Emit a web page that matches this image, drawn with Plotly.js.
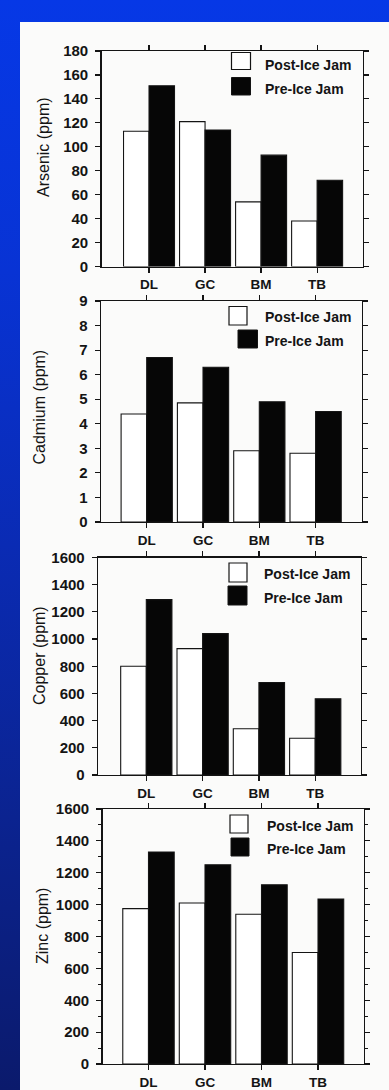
<!DOCTYPE html>
<html>
<head>
<meta charset="utf-8">
<script src="https://cdn.plot.ly/plotly-3.0.1.min.js"></script>
<style>
  html, body { margin: 0; padding: 0; }
  body {
    width: 389px; height: 1090px; overflow: hidden;
    background: linear-gradient(to bottom, #0638e6 0%, #0833d4 25%, #0a2bb4 50%, #0b2390 75%, #0b1a6c 100%);
  }
  #chart { width: 389px; height: 1090px; }
</style>
</head>
<body>
<div id="chart"></div>
<script>
// Sampling sites
const categories = ['DL', 'GC', 'BM', 'TB'];
const seriesNames = ['Post-Ice Jam', 'Pre-Ice Jam'];

// Sediment concentrations (ppm)
const arsenicPost = [113, 121, 54, 38];
const arsenicPre  = [151, 114, 93, 72];
const cadmiumPost = [4.4, 4.85, 2.9, 2.8];
const cadmiumPre  = [6.7, 6.3, 4.9, 4.5];
const copperPost  = [800, 930, 340, 270];
const copperPre   = [1290, 1040, 680, 560];
const zincPost    = [975, 1010, 940, 700];
const zincPre     = [1330, 1250, 1125, 1035];

// Axis titles and tick steps
const axisTitles = ['Arsenic (ppm)', 'Cadmium (ppm)', 'Copper (ppm)', 'Zinc (ppm)'];
const yMax  = [180, 9, 1600, 1600];
const yStep = [20, 1, 200, 200];

const W = 389, H = 1090;
const fx = p => p / W;
const fy = p => 1 - p / H;

const FONT = 'Liberation Sans, Arial, Helvetica, sans-serif';
const INK = '#141414';

// Panel geometry in pixels: plot frame, x range, title position, key boxes
const panels = [
  { post: arsenicPost, pre: arsenicPre, frame: [101.5, 51, 362.5, 266.5], xr: [-0.848, 3.81],
    title: [43, 147], white: [231.5, 52.5, 250.5, 69.5], black: [231.5, 77.5, 250.5, 95], tx: 263, ty: [65.5, 89] },
  { post: cadmiumPost, pre: cadmiumPre, frame: [101, 301, 362, 522], xr: [-0.812, 3.824],
    title: [39, 407.5], white: [229, 306.5, 247, 325], black: [238, 330, 257.5, 348], tx: 263, ty: [317, 341] },
  { post: copperPost, pre: copperPre, frame: [98, 557.5, 361, 775], xr: [-0.858, 3.813],
    title: [39, 656], white: [229, 563, 247, 582], black: [228, 586, 247, 605], tx: 262, ty: [574, 598] },
  { post: zincPost, pre: zincPre, frame: [102.5, 809, 364, 1064], xr: [-0.814, 3.814],
    title: [42, 926], white: [230, 815, 248, 833], black: [231, 838, 249, 856], tx: 265, ty: [826, 849] }
];

const traces = [];
const layout = {
  width: W, height: H,
  margin: { l: 0, r: 0, t: 0, b: 0 },
  paper_bgcolor: 'rgba(0,0,0,0)',
  plot_bgcolor: '#fbfbfa',
  showlegend: false,
  barmode: 'group',
  bargap: 0.09,
  bargroupgap: 0,
  font: { family: FONT, color: INK },
  shapes: [
    // white page
    { type: 'rect', xref: 'paper', yref: 'paper', x0: fx(20), x1: 1, y0: 0, y1: fy(22),
      fillcolor: '#fbfbfa', line: { width: 0 }, layer: 'below' }
  ],
  annotations: []
};

panels.forEach((p, i) => {
  const n = i === 0 ? '' : String(i + 1);
  const xa = 'x' + n, ya = 'y' + n;

  traces.push({
    type: 'bar', name: seriesNames[0], x: categories, y: p.post, xaxis: xa, yaxis: ya,
    marker: { color: '#ffffff', line: { color: INK, width: 1.1 } }
  });
  traces.push({
    type: 'bar', name: seriesNames[1], x: categories, y: p.pre, xaxis: xa, yaxis: ya,
    marker: { color: '#060606', line: { color: INK, width: 1.1 } }
  });

  const [l, t, r, b] = p.frame;
  layout['xaxis' + n] = {
    domain: [fx(l), fx(r)], anchor: ya, type: 'category', range: p.xr,
    showline: true, linecolor: INK, linewidth: 1.3, mirror: 'ticks',
    ticks: 'outside', ticklen: 5, tickcolor: INK, tickwidth: 1.2,
    ticklabelstandoff: 0,
    tickfont: { family: FONT, size: 13.5, color: INK, weight: 'bold' },
    showgrid: false, zeroline: false, fixedrange: true
  };
  const yaxis = {
    domain: [fy(b), fy(t)], anchor: xa, range: [0, yMax[i]], dtick: yStep[i], tick0: 0,
    showline: true, linecolor: INK, linewidth: 1.3, mirror: 'ticks',
    ticks: 'outside', ticklen: 5, tickcolor: INK, tickwidth: 1.2,
    ticklabelstandoff: 4,
    tickfont: { family: FONT, size: 15, color: INK, weight: 'bold' },
    showgrid: false, zeroline: false, fixedrange: true
  };
  if (i === 3) {
    yaxis.minor = { dtick: 100, ticks: 'outside', ticklen: 3, tickcolor: INK, tickwidth: 1, showgrid: false };
  }
  layout['yaxis' + n] = yaxis;

  // y-axis title
  layout.annotations.push({
    xref: 'paper', yref: 'paper', x: fx(p.title[0]), y: fy(p.title[1]),
    text: axisTitles[i], textangle: -90, showarrow: false,
    xanchor: 'center', yanchor: 'middle',
    font: { family: FONT, size: 16, color: INK }
  });

  // key: outlined box for post, filled box for pre
  layout.shapes.push({
    type: 'rect', xref: 'paper', yref: 'paper',
    x0: fx(p.white[0]), x1: fx(p.white[2]), y0: fy(p.white[3]), y1: fy(p.white[1]),
    fillcolor: '#ffffff', line: { color: INK, width: 1.2 }
  });
  layout.shapes.push({
    type: 'rect', xref: 'paper', yref: 'paper',
    x0: fx(p.black[0]), x1: fx(p.black[2]), y0: fy(p.black[3]), y1: fy(p.black[1]),
    fillcolor: '#060606', line: { color: INK, width: 1 }
  });
  seriesNames.forEach((name, k) => {
    layout.annotations.push({
      xref: 'paper', yref: 'paper', x: fx(p.tx), y: fy(p.ty[k]),
      text: name, showarrow: false, xanchor: 'left', yanchor: 'middle',
      font: { family: FONT, size: 14, color: INK, weight: 'bold' }
    });
  });
});

Plotly.newPlot('chart', traces, layout, { staticPlot: true, displayModeBar: false });
</script>
</body>
</html>
